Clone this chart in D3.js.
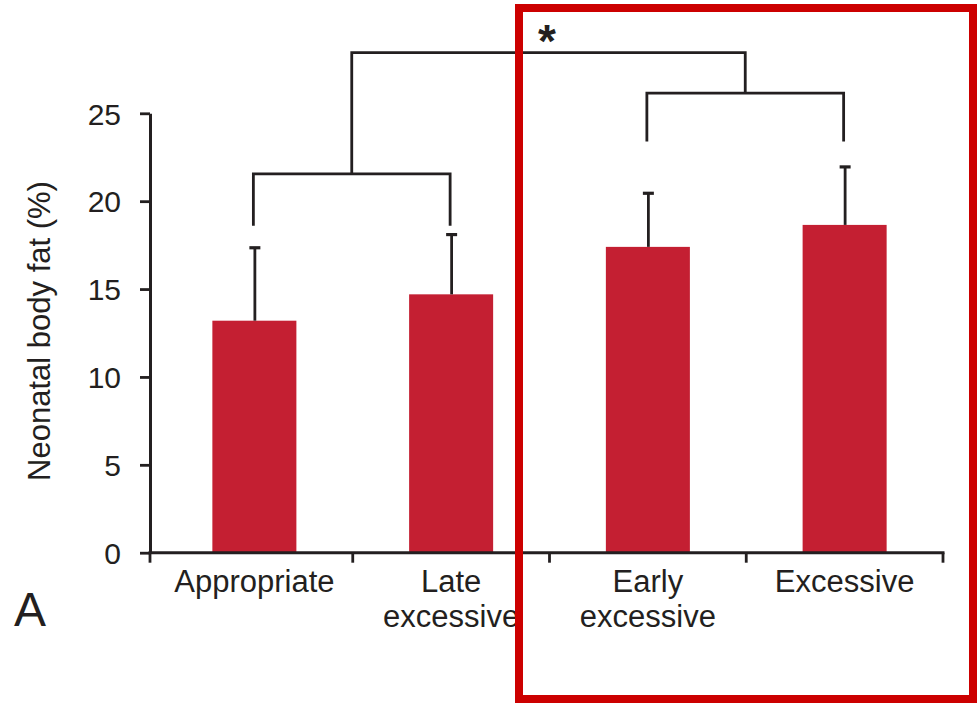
<!DOCTYPE html>
<html>
<head>
<meta charset="utf-8">
<script src="https://cdn.jsdelivr.net/npm/d3@7"></script>
<style>
  body { margin: 0; background: #fff; }
  svg { display: block; font-family: "Liberation Sans", Arial, sans-serif; }
</style>
</head>
<body>
<svg width="979" height="705"></svg>
<script>
// groups and values
var groups = ["Appropriate", "Late excessive", "Early excessive", "Excessive"];
var groupLines = [["Appropriate"], ["Late", "excessive"], ["Early", "excessive"], ["Excessive"]];
var means = [13.2, 14.7, 17.4, 18.65];
var sds = [4.15, 3.4, 3.05, 3.3];
var yTicks = [0, 5, 10, 15, 20, 25];

// significance brackets (in y units)
var pairs = [
    { a: 0, b: 1, top: 21.55, leg: 18.6 },
    { a: 2, b: 3, top: 26.15, leg: 23.4 }
];
var joinLevel = 28.45;

var svg = d3.select("svg");
var ink = "#231f20";
var barColor = "#c41f32";

var y = d3.scaleLinear().domain([0, 25]).range([552.7, 113.3]);
var x = d3.scaleBand().domain(groups).range([156, 943])
    .paddingInner(0.573).paddingOuter(0.2865);

function cx(i) { return x(groups[i]) + x.bandwidth() / 2; }

// bars
svg.selectAll(".bar")
    .data(means)
    .enter().append("rect")
    .attr("class", "bar")
    .attr("x", function(d, i) { return x(groups[i]); })
    .attr("y", function(d) { return y(d); })
    .attr("width", x.bandwidth())
    .attr("height", function(d) { return y(0) - y(d); })
    .style("fill", barColor);

// error bars (upper only)
var err = svg.selectAll(".err")
    .data(means)
    .enter().append("g")
    .attr("class", "err")
    .style("stroke", ink)
    .style("stroke-width", 2.8);

err.append("line")
    .attr("x1", function(d, i) { return cx(i) + 0.5; })
    .attr("x2", function(d, i) { return cx(i) + 0.5; })
    .attr("y1", function(d) { return y(d); })
    .attr("y2", function(d, i) { return y(d + sds[i]); });

err.append("line")
    .attr("x1", function(d, i) { return cx(i) - 5; })
    .attr("x2", function(d, i) { return cx(i) + 6; })
    .attr("y1", function(d, i) { return y(d + sds[i]); })
    .attr("y2", function(d, i) { return y(d + sds[i]); })
    .style("stroke-width", 3.2);

// y axis
var yAxis = svg.append("g")
    .attr("transform", "translate(150,0)")
    .call(d3.axisLeft(y).tickValues(yTicks).tickSize(10).tickPadding(19).tickSizeOuter(0));
yAxis.select(".domain").style("stroke", ink).style("stroke-width", 3);
yAxis.selectAll(".tick line").style("stroke", ink).style("stroke-width", 2.8);
yAxis.selectAll(".tick text")
    .style("font-size", "30px")
    .style("fill", ink)
    .attr("dy", "0.36em");

// x axis line + ticks at group boundaries
svg.append("line")
    .attr("x1", 148.5).attr("x2", 944.5)
    .attr("y1", y(0)).attr("y2", y(0))
    .style("stroke", ink).style("stroke-width", 3);

var bounds = groups.map(function(g) { return x(g) - x.step() * x.paddingOuter(); });
bounds[0] = 150;
bounds.push(943);
svg.selectAll(".xtick")
    .data(bounds)
    .enter().append("line")
    .attr("class", "xtick")
    .attr("x1", function(d) { return d; })
    .attr("x2", function(d) { return d; })
    .attr("y1", y(0))
    .attr("y2", y(0) + 10)
    .style("stroke", ink).style("stroke-width", 2.8);

var labels = svg.selectAll(".xlab")
    .data(groupLines)
    .enter().append("text")
    .attr("class", "xlab")
    .attr("text-anchor", "middle")
    .style("font-size", "31px")
    .style("fill", ink);

labels.selectAll("tspan")
    .data(function(d, i) { return d.map(function(t) { return { t: t, i: i }; }); })
    .enter().append("tspan")
    .attr("x", function(d) { return cx(d.i); })
    .attr("y", function(d, j) { return 591.5 + j * 35; })
    .text(function(d) { return d.t; });

// y axis title
svg.append("text")
    .attr("transform", "translate(50,331) rotate(-90)")
    .attr("text-anchor", "middle")
    .style("font-size", "31px")
    .style("fill", ink)
    .text("Neonatal body fat (%)");

// brackets
var br = svg.append("g")
    .style("fill", "none")
    .style("stroke", ink)
    .style("stroke-width", 2.8);

pairs.forEach(function(p) {
    var x1 = cx(p.a) - 1, x2 = cx(p.b) - 1;
    br.append("path")
        .attr("d", "M" + x1 + "," + y(p.leg) + "V" + y(p.top) + "H" + x2 + "V" + y(p.leg));
});

var m1 = (cx(pairs[0].a) + cx(pairs[0].b)) / 2 - 1;
var m2 = (cx(pairs[1].a) + cx(pairs[1].b)) / 2 - 1;
br.append("path")
    .attr("d", "M" + m1 + "," + y(pairs[0].top) + "V" + y(joinLevel) + "H" + m2 + "V" + y(pairs[1].top));

svg.append("text")
    .attr("x", 547)
    .attr("y", 57)
    .attr("text-anchor", "middle")
    .style("font-size", "46px")
    .style("font-weight", "bold")
    .style("fill", ink)
    .text("*");

// panel letter
svg.append("text")
    .attr("x", 14)
    .attr("y", 626)
    .style("font-size", "48px")
    .style("fill", ink)
    .text("A");

// highlight box
svg.append("rect")
    .attr("x", 519).attr("y", 8)
    .attr("width", 454).attr("height", 691)
    .style("fill", "none")
    .style("stroke", "#cc0000")
    .style("stroke-width", 8);
</script>
</body>
</html>
